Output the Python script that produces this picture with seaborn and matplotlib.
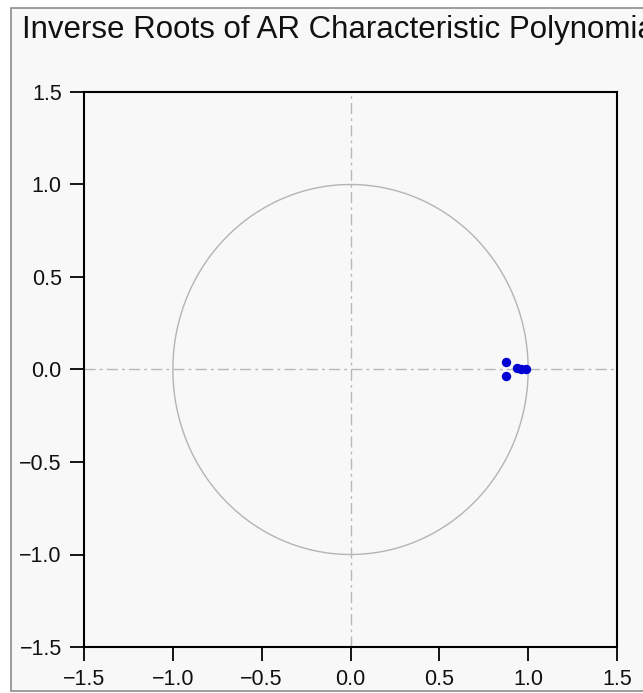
import numpy as np
import pandas as pd
import matplotlib
matplotlib.use("Agg")
import matplotlib.pyplot as plt
from matplotlib.patches import Rectangle
import seaborn as sns

# Inverse AR roots (real and imaginary parts)
root_re = [0.878, 0.878, 0.935, 0.960, 0.985]
root_im = [0.038, -0.035, 0.006, 0.002, 0.000]

tick_vals = [-1.5, -1.0, -0.5, 0.0, 0.5, 1.0, 1.5]
tick_labels = ["\u22121.5", "\u22121.0", "\u22120.5", "0.0", "0.5", "1.0", "1.5"]
title_text = "Inverse Roots of AR Characteristic Polynomial"

sns.set_theme(style="white")
plt.rcParams["font.family"] = ["Liberation Sans", "DejaVu Sans"]

bg = "#f8f8f8"
fig = plt.figure(figsize=(6.43, 6.93), dpi=100, facecolor="white")

# outer frame of the graph window, kept behind the axes
frame = Rectangle((11 / 643, 1 - 691 / 693), 1.0, (691 - 8) / 693,
                  transform=fig.transFigure, facecolor=bg,
                  edgecolor="#8c8c8c", linewidth=1.2, zorder=-10)
fig.patches.append(frame)

ax = fig.add_axes([84 / 643, 1 - 647 / 693, (617 - 84) / 643, (647 - 92) / 693])
ax.set_zorder(5)
ax.set_facecolor(bg)

# unit circle
theta = np.linspace(0, 2 * np.pi, 400)
circle = pd.DataFrame({"x": np.cos(theta), "y": np.sin(theta)})
ax.plot(circle["x"], circle["y"], color="#b4b4b4", linewidth=1.0, zorder=1)

# zero reference lines
ax.axhline(0, color="#b8b8b8", linewidth=1.0, dashes=(8, 3, 2, 3), zorder=1)
ax.axvline(0, color="#b8b8b8", linewidth=1.0, dashes=(8, 3, 2, 3), zorder=1)

roots = pd.DataFrame({"re": root_re, "im": root_im})
sns.scatterplot(data=roots, x="re", y="im", ax=ax, color="#0000d2",
                marker="o", s=46, edgecolor="#0000d2", linewidth=0, zorder=3)

ax.set_xlim(-1.5, 1.5)
ax.set_ylim(-1.5, 1.5)
ax.set_xticks(tick_vals)
ax.set_xticklabels(tick_labels)
ax.set_yticks(tick_vals)
ax.set_yticklabels(tick_labels)
ax.set_xlabel("")
ax.set_ylabel("")

for side in ["left", "right", "top", "bottom"]:
    ax.spines[side].set_visible(True)
    ax.spines[side].set_color("black")
    ax.spines[side].set_linewidth(1.5)

ax.tick_params(axis="both", which="major", direction="out", length=10,
               width=1.3, color="black", labelsize=15.5, labelcolor="#111111",
               bottom=True, left=True, top=False, right=False)
ax.tick_params(axis="x", pad=6)
ax.tick_params(axis="y", pad=6)

fig.text(22 / 643, 1 - 30 / 693, title_text, ha="left", va="center",
         fontsize=22.5, color="#111111", zorder=6)

fig.savefig("out.png", dpi=100, facecolor="white")
